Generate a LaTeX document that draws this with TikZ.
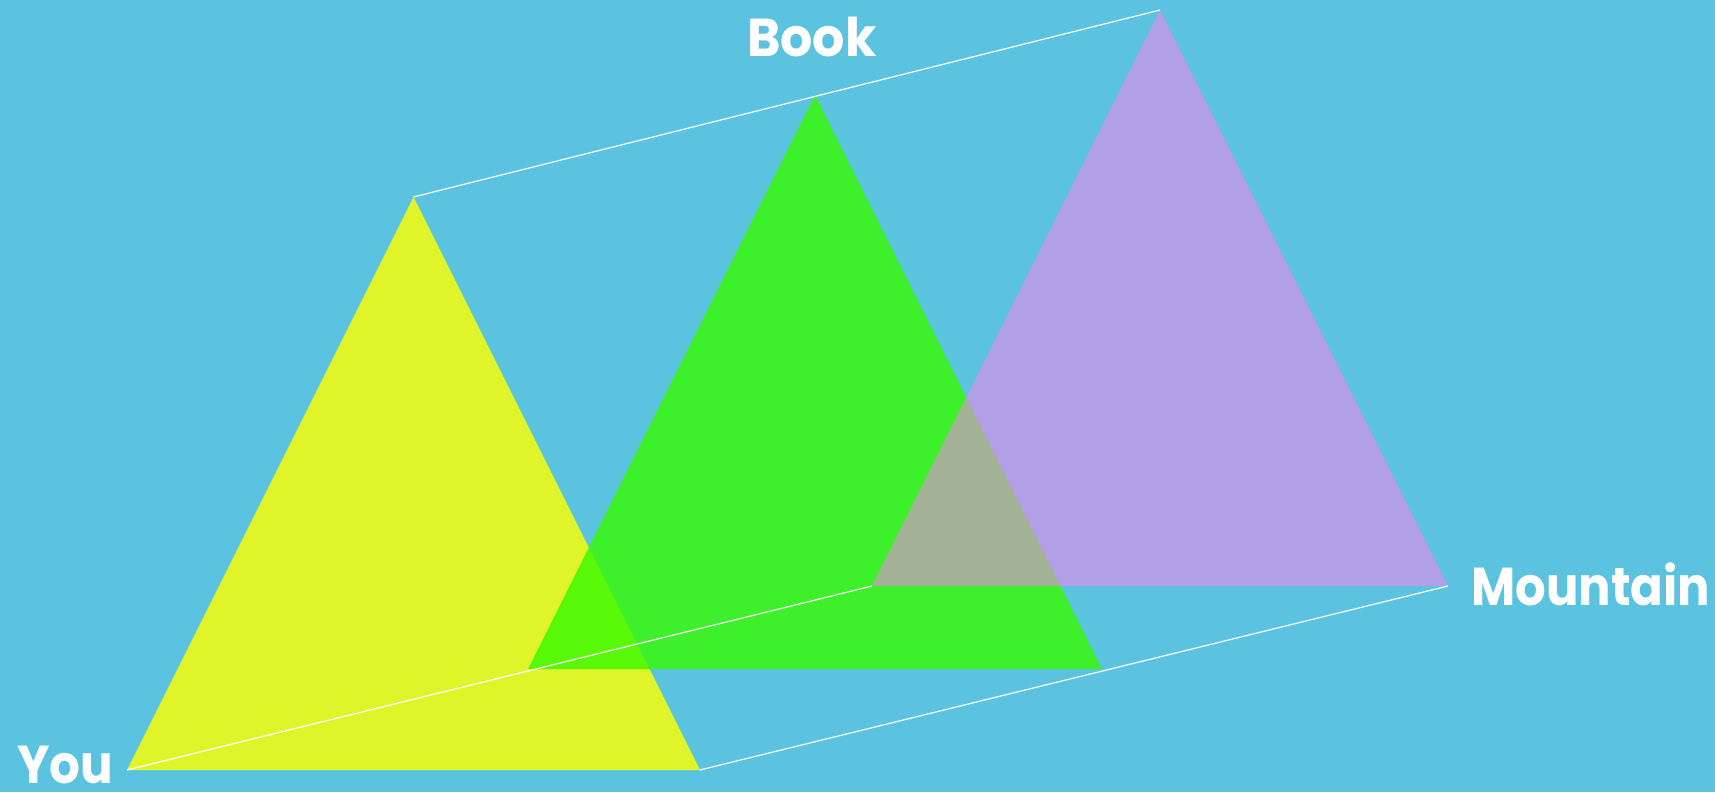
\documentclass[tikz,border=0pt]{standalone}
\usepackage{fontspec}
\setmainfont{Poppins}
\usepackage{graphicx}
\usepackage{tikz}
\usetikzlibrary{calc}
\tikzset{
  edge/.style={draw=white,line width=0.9},
  word/.style={anchor=base west,inner sep=0pt,text=white,font=\fontsize{40}{40}\selectfont\bfseries},
}
% squeeze a word to a given width, keep its height
\newcommand{\fitword}[2]{\resizebox{#1}{\height}{#2}}

\begin{document}
\begin{tikzpicture}[x=0.75pt,y=0.75pt,yscale=-1,xscale=1]
\useasboundingbox (0,0) rectangle (1715,792);
%Background
\fill [color={rgb, 255:red, 91; green, 195; blue, 224 }] (0,0) rectangle (1715,792);

%Corners of the three triangles
\coordinate (youTop) at (413.5,197);
\coordinate (youLeft) at (127,770);
\coordinate (youRight) at (700,770);
\coordinate (bookTop) at (815,95);
\coordinate (bookLeft) at (528,669);
\coordinate (bookRight) at (1102,669);
\coordinate (mtnTop) at (1160,10);
\coordinate (mtnLeft) at (872,586);
\coordinate (mtnRight) at (1448,586);

%Shape: Triangle
\fill [color={rgb, 255:red, 223; green, 245; blue, 42 }] (youLeft) -- (youTop) -- (youRight) -- cycle ;
%Shape: Triangle
\fill [color={rgb, 255:red, 55; green, 251; blue, 0 }, fill opacity=0.8] (bookLeft) -- (bookTop) -- (bookRight) -- cycle ;
%Shape: Triangle
\fill [color={rgb, 255:red, 245; green, 131; blue, 238 }, fill opacity=0.56] (mtnLeft) -- (mtnTop) -- (mtnRight) -- cycle ;

%Straight Lines
\draw [edge] (youTop) -- (mtnTop) ;
\draw [edge] (youLeft) -- (mtnLeft) ;
\draw [edge] (youRight) -- (mtnRight) ;

% Text Node
\node [word] (you) at (17,783) {\fitword{72pt}{You}};
% Text Node
\node [word] (book) at (747,57) {\fitword{97pt}{Book}};
% Text Node
\node [word] (mountain) at (1471,605) {\fitword{179pt}{Mountain}};

\end{tikzpicture}
\end{document}
